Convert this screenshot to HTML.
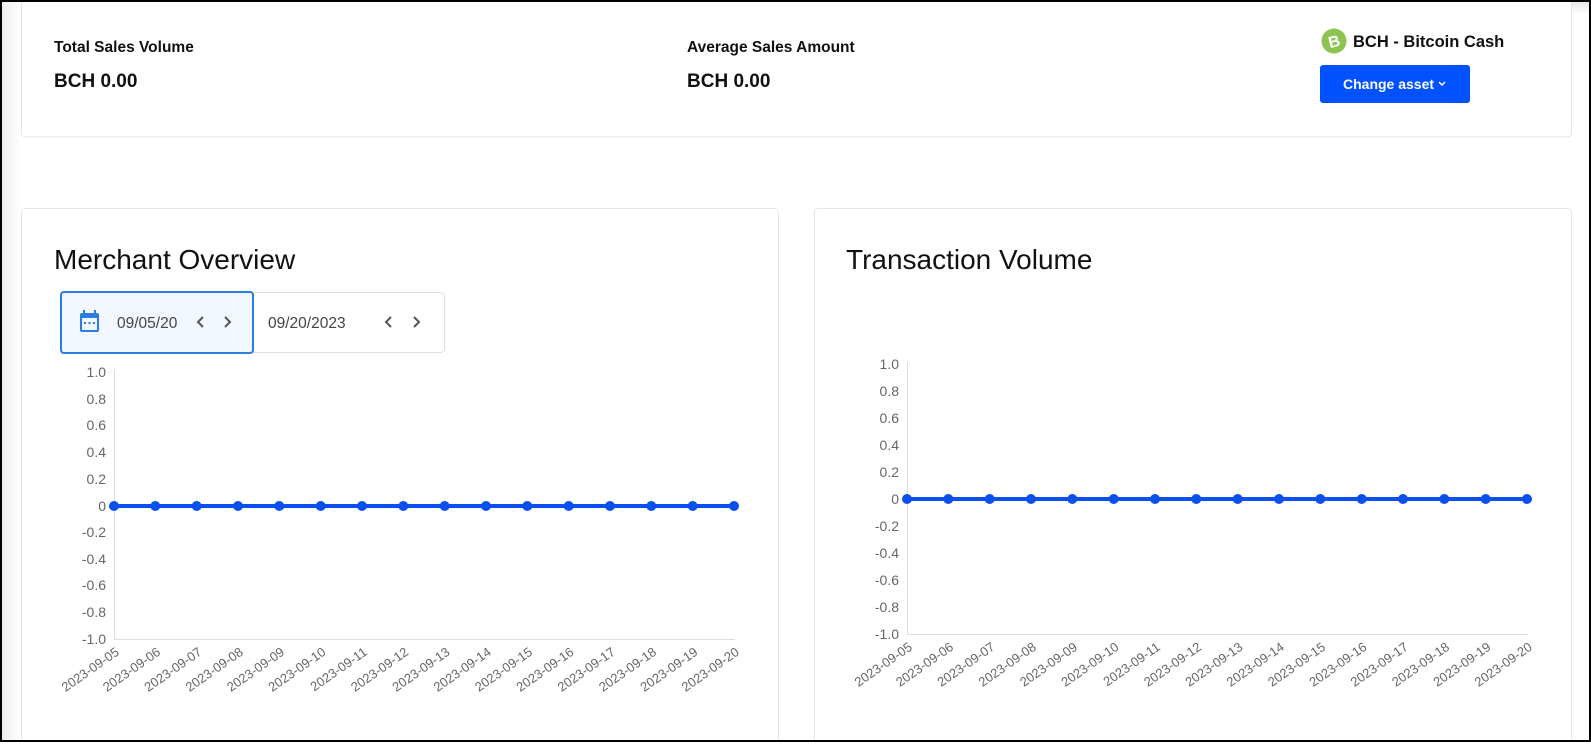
<!DOCTYPE html>
<html><head><meta charset="utf-8"><style>
html,body{margin:0;padding:0;background:#fff;}
body{width:1591px;height:742px;overflow:hidden;position:relative;font-family:"Liberation Sans",Arial,sans-serif;}
</style></head><body>
<svg width="1591" height="742" viewBox="0 0 1591 742" xmlns="http://www.w3.org/2000/svg" font-family="Liberation Sans, Arial, sans-serif">
<defs>
<linearGradient id="sh" x1="0" y1="0" x2="0" y2="1"><stop offset="0" stop-color="#e6e6e6"/><stop offset="1" stop-color="#fff"/></linearGradient>
<linearGradient id="shl" x1="0" y1="0" x2="1" y2="0"><stop offset="0" stop-color="#ececec"/><stop offset="1" stop-color="#fff"/></linearGradient>
</defs>
<rect x="0" y="0" width="1591" height="742" fill="#fff"/>
<rect x="1" y="1" width="1589" height="14" fill="url(#sh)"/>
<rect x="1" y="1" width="20" height="740" fill="url(#shl)"/>
<!-- top card -->
<rect x="21.5" y="-5" width="1550" height="142" rx="4" fill="#fff" stroke="#e3e5ea"/>
<text x="54" y="52" font-size="15.5" fill="#111" font-weight="600">Total Sales Volume</text>
<text x="54" y="87" font-size="19" fill="#111" font-weight="600">BCH 0.00</text>
<text x="687" y="52" font-size="15.5" fill="#111" font-weight="600">Average Sales Amount</text>
<text x="687" y="87" font-size="19" fill="#111" font-weight="600">BCH 0.00</text>
<circle cx="1334" cy="41" r="12.5" fill="#8dc351"/>
<text x="1334" y="47" font-size="16" fill="#fff" font-weight="700" text-anchor="middle" transform="rotate(-15 1334 41)">B</text>
<text x="1353" y="47" font-size="16.5" fill="#111" font-weight="600">BCH - Bitcoin Cash</text>
<rect x="1320" y="65" width="150" height="38" rx="3" fill="#0052ff"/>
<text x="1343" y="89" font-size="14" fill="#fff" font-weight="600">Change asset</text>
<path d="M1439 82 l3 3 l3 -3" stroke="#fff" stroke-width="1.5" fill="none"/>
<!-- bottom cards -->
<rect x="21.5" y="208.5" width="757" height="560" rx="4" fill="#fff" stroke="#e3e5ea"/>
<rect x="814.5" y="208.5" width="757" height="560" rx="4" fill="#fff" stroke="#e3e5ea"/>
<text x="54" y="269" font-size="28" fill="#111" font-weight="500">Merchant Overview</text>
<text x="846" y="269" font-size="28" fill="#111" font-weight="500">Transaction Volume</text>
<!-- date picker -->
<rect x="61.5" y="292.5" width="383" height="60" rx="4" fill="#fff" stroke="#dcdfe4"/>
<rect x="61" y="292" width="192" height="61" rx="3" fill="#f2f7ff" stroke="#2a7de1" stroke-width="2"/>
<rect x="80" y="313" width="19" height="19" rx="2" fill="#2a7de1"/>
<rect x="82" y="318" width="15" height="12" fill="#f2f7ff"/>
<rect x="83" y="310" width="2" height="5" fill="#2a7de1"/><rect x="94" y="310" width="2" height="5" fill="#2a7de1"/>
<rect x="84" y="322" width="2" height="2" fill="#2a7de1"/><rect x="88.5" y="322" width="2" height="2" fill="#2a7de1"/><rect x="93" y="322" width="2" height="2" fill="#2a7de1"/>
<text x="117" y="328" font-size="15.5" fill="#444">09/05/20</text>
<path d="M203 317 l-5 5 l5 5" stroke="#555" stroke-width="2" fill="none"/>
<path d="M225 317 l5 5 l-5 5" stroke="#555" stroke-width="2" fill="none"/>
<text x="268" y="328" font-size="15.5" fill="#444">09/20/2023</text>
<path d="M391 317 l-5 5 l5 5" stroke="#555" stroke-width="2" fill="none"/>
<path d="M414 317 l5 5 l-5 5" stroke="#555" stroke-width="2" fill="none"/>
<!-- left chart -->
<g font-size="14" fill="#666" text-anchor="end">
<text x="106" y="377">1.0</text><text x="106" y="404">0.8</text><text x="106" y="430">0.6</text><text x="106" y="457">0.4</text><text x="106" y="484">0.2</text><text x="106" y="511">0</text><text x="106" y="537">-0.2</text><text x="106" y="564">-0.4</text><text x="106" y="590">-0.6</text><text x="106" y="617">-0.8</text><text x="106" y="644">-1.0</text>
</g>
<line x1="114.5" y1="370" x2="114.5" y2="639" stroke="#ddd"/>
<line x1="114" y1="639.5" x2="735" y2="639.5" stroke="#ddd"/>
<line x1="114" y1="506" x2="734" y2="506" stroke="#0a4ff0" stroke-width="4"/>
<g fill="#0a4ff0">
<circle cx="114" cy="506" r="5"/><circle cx="155.3" cy="506" r="5"/><circle cx="196.7" cy="506" r="5"/><circle cx="238" cy="506" r="5"/><circle cx="279.3" cy="506" r="5"/><circle cx="320.7" cy="506" r="5"/><circle cx="362" cy="506" r="5"/><circle cx="403.3" cy="506" r="5"/><circle cx="444.7" cy="506" r="5"/><circle cx="486" cy="506" r="5"/><circle cx="527.3" cy="506" r="5"/><circle cx="568.7" cy="506" r="5"/><circle cx="610" cy="506" r="5"/><circle cx="651.3" cy="506" r="5"/><circle cx="692.7" cy="506" r="5"/><circle cx="734" cy="506" r="5"/>
</g>
<g font-size="13" fill="#666" text-anchor="end">
<text transform="translate(120 654) rotate(-35)">2023-09-05</text>
<text transform="translate(161.3 654) rotate(-35)">2023-09-06</text>
<text transform="translate(202.7 654) rotate(-35)">2023-09-07</text>
<text transform="translate(244 654) rotate(-35)">2023-09-08</text>
<text transform="translate(285.3 654) rotate(-35)">2023-09-09</text>
<text transform="translate(326.7 654) rotate(-35)">2023-09-10</text>
<text transform="translate(368 654) rotate(-35)">2023-09-11</text>
<text transform="translate(409.3 654) rotate(-35)">2023-09-12</text>
<text transform="translate(450.7 654) rotate(-35)">2023-09-13</text>
<text transform="translate(492 654) rotate(-35)">2023-09-14</text>
<text transform="translate(533.3 654) rotate(-35)">2023-09-15</text>
<text transform="translate(574.7 654) rotate(-35)">2023-09-16</text>
<text transform="translate(616 654) rotate(-35)">2023-09-17</text>
<text transform="translate(657.3 654) rotate(-35)">2023-09-18</text>
<text transform="translate(698.7 654) rotate(-35)">2023-09-19</text>
<text transform="translate(740 654) rotate(-35)">2023-09-20</text>
</g>
<!-- right chart -->
<g font-size="14" fill="#666" text-anchor="end">
<text x="899" y="369">1.0</text><text x="899" y="396">0.8</text><text x="899" y="423">0.6</text><text x="899" y="450">0.4</text><text x="899" y="477">0.2</text><text x="899" y="504">0</text><text x="899" y="531">-0.2</text><text x="899" y="558">-0.4</text><text x="899" y="585">-0.6</text><text x="899" y="612">-0.8</text><text x="899" y="639">-1.0</text>
</g>
<line x1="907.5" y1="362" x2="907.5" y2="634" stroke="#ddd"/>
<line x1="907" y1="634.5" x2="1528" y2="634.5" stroke="#ddd"/>
<line x1="907" y1="499" x2="1527" y2="499" stroke="#0a4ff0" stroke-width="4"/>
<g fill="#0a4ff0">
<circle cx="907" cy="499" r="5"/><circle cx="948.3" cy="499" r="5"/><circle cx="989.7" cy="499" r="5"/><circle cx="1031" cy="499" r="5"/><circle cx="1072.3" cy="499" r="5"/><circle cx="1113.7" cy="499" r="5"/><circle cx="1155" cy="499" r="5"/><circle cx="1196.3" cy="499" r="5"/><circle cx="1237.7" cy="499" r="5"/><circle cx="1279" cy="499" r="5"/><circle cx="1320.3" cy="499" r="5"/><circle cx="1361.7" cy="499" r="5"/><circle cx="1403" cy="499" r="5"/><circle cx="1444.3" cy="499" r="5"/><circle cx="1485.7" cy="499" r="5"/><circle cx="1527" cy="499" r="5"/>
</g>
<g font-size="13" fill="#666" text-anchor="end">
<text transform="translate(913 649) rotate(-35)">2023-09-05</text>
<text transform="translate(954.3 649) rotate(-35)">2023-09-06</text>
<text transform="translate(995.7 649) rotate(-35)">2023-09-07</text>
<text transform="translate(1037 649) rotate(-35)">2023-09-08</text>
<text transform="translate(1078.3 649) rotate(-35)">2023-09-09</text>
<text transform="translate(1119.7 649) rotate(-35)">2023-09-10</text>
<text transform="translate(1161 649) rotate(-35)">2023-09-11</text>
<text transform="translate(1202.3 649) rotate(-35)">2023-09-12</text>
<text transform="translate(1243.7 649) rotate(-35)">2023-09-13</text>
<text transform="translate(1285 649) rotate(-35)">2023-09-14</text>
<text transform="translate(1326.3 649) rotate(-35)">2023-09-15</text>
<text transform="translate(1367.7 649) rotate(-35)">2023-09-16</text>
<text transform="translate(1409 649) rotate(-35)">2023-09-17</text>
<text transform="translate(1450.3 649) rotate(-35)">2023-09-18</text>
<text transform="translate(1491.7 649) rotate(-35)">2023-09-19</text>
<text transform="translate(1533 649) rotate(-35)">2023-09-20</text>
</g>
<!-- outer border -->
<rect x="1" y="1" width="1589" height="740" fill="none" stroke="#000" stroke-width="2"/>
</svg>
</body></html>
